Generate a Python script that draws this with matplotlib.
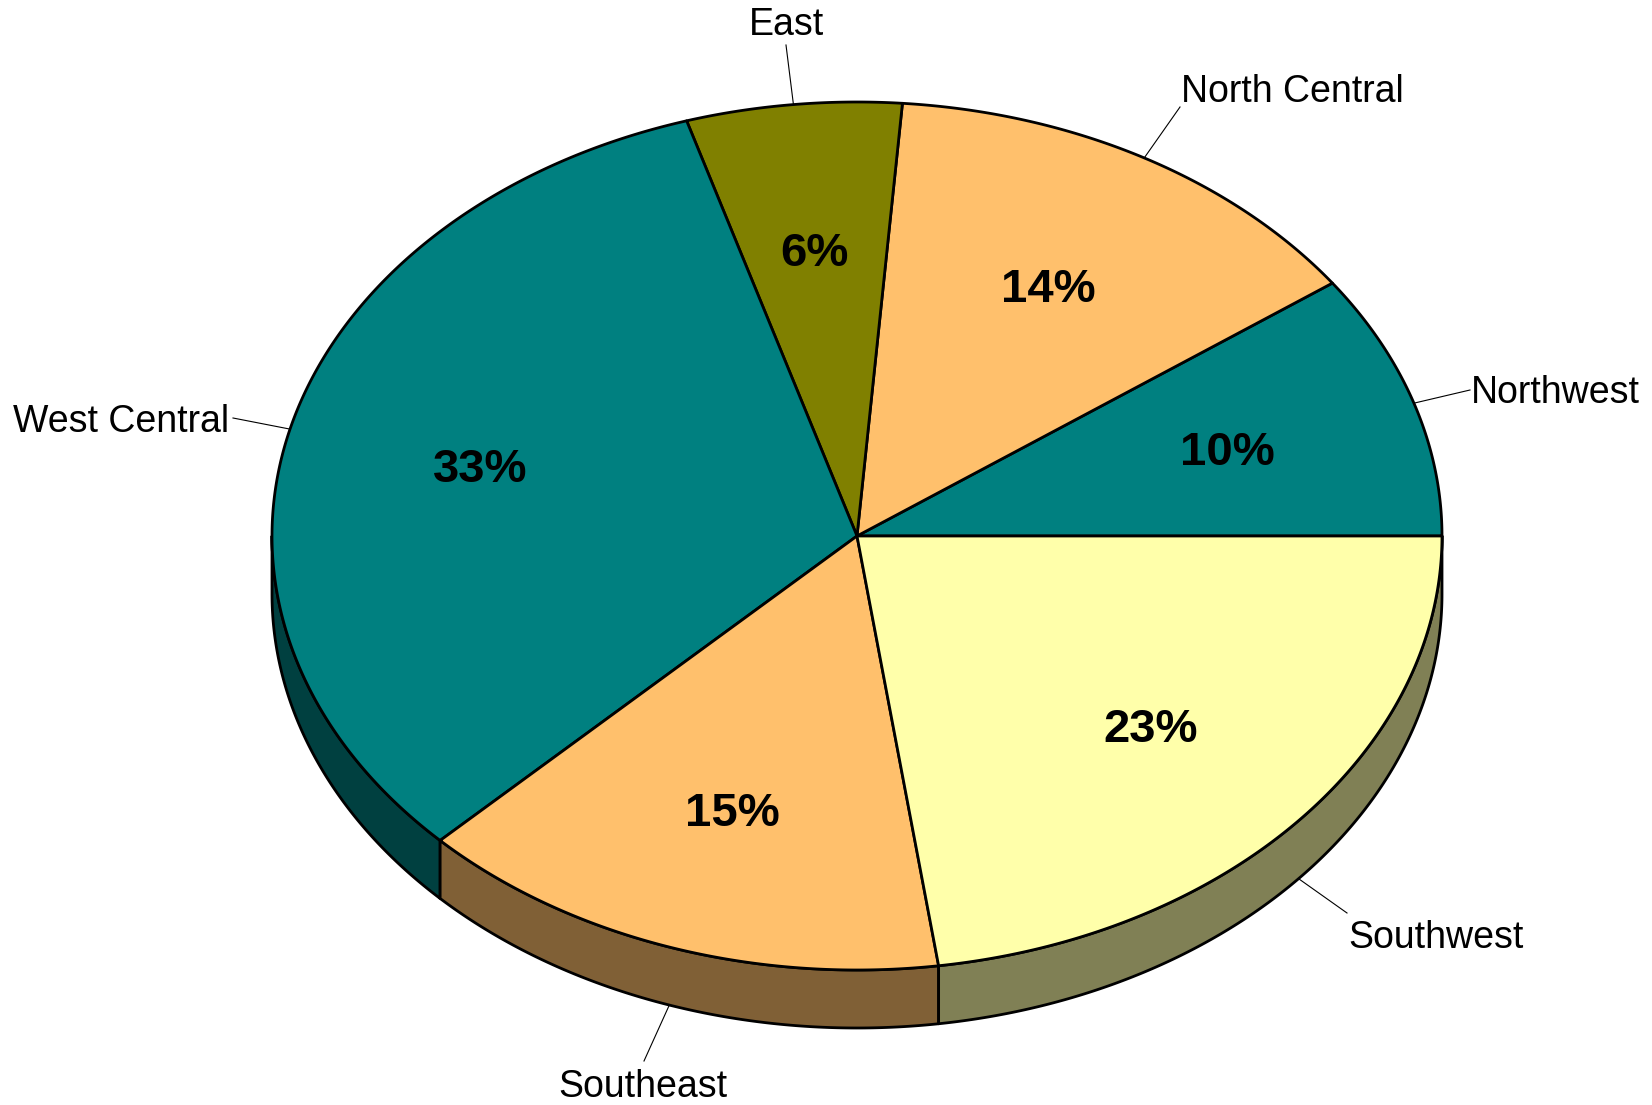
import numpy as np
import matplotlib
matplotlib.use("Agg")
import matplotlib.pyplot as plt
from matplotlib.patches import Polygon

# Regional shares (percent), counter-clockwise from the 3 o'clock position
regions = ["Northwest", "North Central", "East", "West Central", "Southeast", "Southwest"]
shares = [10, 14, 6, 33, 15, 23]
top_colors = ["#008080", "#FFC06C", "#808000", "#008080", "#FFC06C", "#FFFFAA"]

# Pie geometry in pixel units
W, H = 1652, 1105
cx, cy = 857, 536
ra, rb = 585, 434
depth = 58
label_r = 0.665

# Category label placement: (text x, baseline y, ha, leader end x, leader end y)
label_layout = {
    "Northwest": (1471, 403, "left", 1470, 390),
    "North Central": (1181, 102, "left", 1180, 107),
    "East": (786, 35, "center", 786, 45),
    "West Central": (229, 432, "right", 233, 418),
    "Southeast": (643, 1097, "center", 644, 1061),
    "Southwest": (1348, 948, "left", 1347, 913),
}

FONT = "Liberation Sans"


def darker(hex_color, f=0.5):
    r, g, b = matplotlib.colors.to_rgb(hex_color)
    return (r * f, g * f, b * f)


def ell(t, dy=0.0, scale=1.0):
    return cx + ra * scale * np.cos(t), cy - rb * scale * np.sin(t) + dy


fig = plt.figure(figsize=(W / 100, H / 100), dpi=100)
ax = fig.add_axes([0, 0, 1, 1])
ax.set_xlim(0, W)
ax.set_ylim(H, 0)
ax.axis("off")

vals = np.array(shares, dtype=float)
bounds = np.concatenate([[0], np.cumsum(vals) / vals.sum() * 360.0])
lw = 2.0

# Side walls (only the front half, 180..360 degrees, is visible)
for i in range(len(vals)):
    a0, a1 = max(bounds[i], 180.0), min(bounds[i + 1], 360.0)
    if a1 <= a0:
        continue
    t = np.radians(np.linspace(a0, a1, 200))
    xt, yt = ell(t)
    xb, yb = ell(t[::-1], dy=depth)
    pts = np.column_stack([np.concatenate([xt, xb]), np.concatenate([yt, yb])])
    ax.add_patch(Polygon(pts, closed=True, facecolor=darker(top_colors[i]),
                         edgecolor="black", linewidth=lw, joinstyle="round"))

# Top faces
for i in range(len(vals)):
    t = np.radians(np.linspace(bounds[i], bounds[i + 1], 300))
    xs, ys = ell(t)
    pts = np.column_stack([np.concatenate([[cx], xs]), np.concatenate([[cy], ys])])
    ax.add_patch(Polygon(pts, closed=True, facecolor=top_colors[i],
                         edgecolor="black", linewidth=lw, joinstyle="round"))

# Percentage labels and category labels with leader lines
for i, name in enumerate(regions):
    mid = np.radians((bounds[i] + bounds[i + 1]) / 2)
    px, py = ell(mid, scale=label_r)
    ax.text(px, py + 17, f"{shares[i]}%", ha="center", va="baseline",
            fontsize=34, fontweight="bold", family=FONT, color="black")

    ex, ey = ell(mid, dy=depth if np.sin(mid) < 0 else 0.0)
    tx, ty, ha, lx, ly = label_layout[name]
    ax.plot([ex, lx], [ey, ly], color="black", linewidth=0.8)
    ax.text(tx, ty, name, ha=ha, va="baseline", fontsize=27,
            family=FONT, color="black")

fig.savefig("out.png", dpi=100)
